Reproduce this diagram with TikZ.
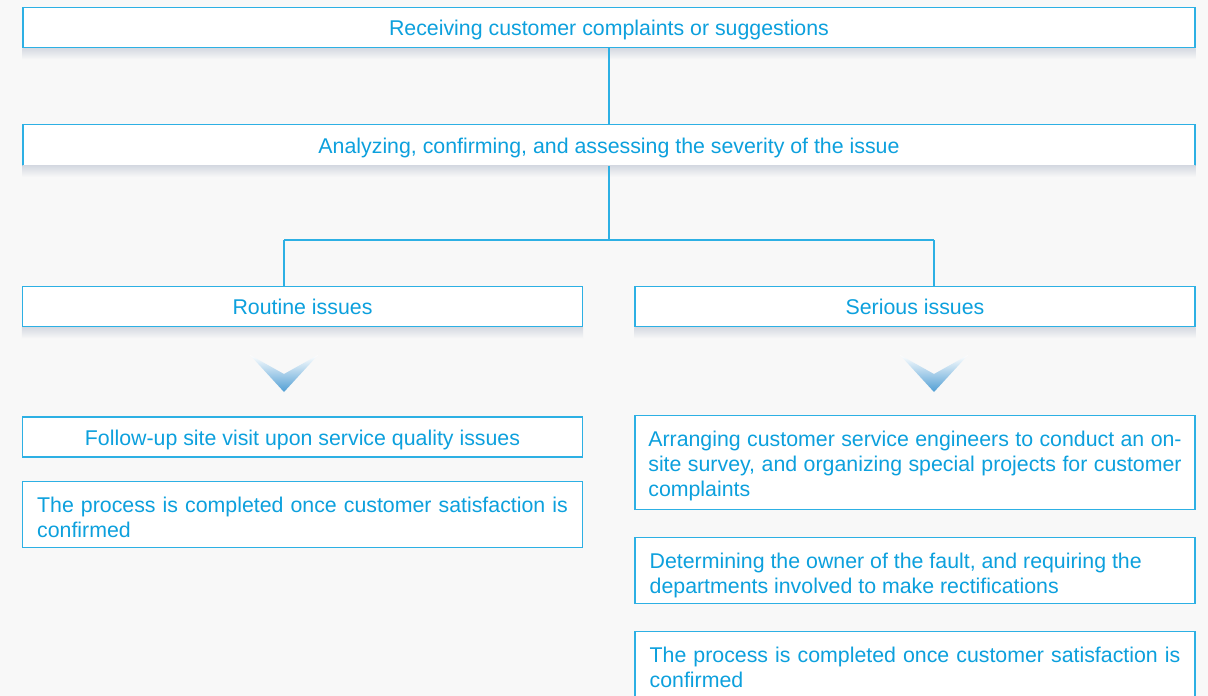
\documentclass[tikz,border=0pt]{standalone}
\usepackage{fontspec}
\setmainfont{Liberation Sans}
\usepackage{xcolor}
\usepackage{tikz}
\usetikzlibrary{positioning,calc}
\definecolor{FrameBlue}{RGB}{45,176,228}
\definecolor{InkBlue}{RGB}{12,160,221}
\definecolor{PageGray}{RGB}{248,248,248}
\definecolor{ShadeGray}{RGB}{214,218,226}
\definecolor{ChevBlue}{RGB}{80,158,212}

\begin{document}
\begin{tikzpicture}[
		x=0.75pt, y=-0.75pt,
		box/.style={draw=FrameBlue, line width=0.9pt, fill=white, text=InkBlue,
			font=\fontsize{16}{18.8}\selectfont, inner sep=0pt, align=center},
		wide/.style={box, minimum width=879pt, minimum height=30.5pt, text height=12pt, text depth=0pt},
		half/.style={box, minimum width=420pt, minimum height=30.5pt, text height=12pt, text depth=0pt},
		plain/.style={box, line width=0.8pt, minimum width=420pt, minimum height=30pt, text height=12pt, text depth=0pt},
		para/.style={box, line width=0.8pt, minimum width=420pt, text width=398pt, align=justify},
		link/.style={draw=FrameBlue, line width=0.9pt}
		]
		
		% ===== nền =====
		\fill[PageGray] (0,0) rectangle (1208,696);
		\useasboundingbox (0,0) rectangle (1208,696);
		
		% ===== hai hộp trên =====
		\node[wide] (recv) at (609,27.5) {Receiving customer complaints or suggestions};
		\node[wide] (assess) at (609,145) {Analyzing, confirming, and assessing the severity of the issue};
		
		% ===== hai nhánh =====
		\node[half] (routine) at (302.5,306.5) {Routine issues};
		\node[half] (serious) at (915,306.5) {Serious issues};
		
		% ===== bóng mờ dưới hộp =====
		\foreach \b in {recv,assess,routine,serious}{
			\shade[top color=ShadeGray, bottom color=PageGray]
			(\b.south west) rectangle ($(\b.south east)+(0,11)$);
		}
		
		% ===== nhánh trái =====
		\node[plain] (visit) at (302.5,437) {Follow-up site visit upon service quality issues};
		\node[para, minimum height=50pt, text depth=15pt] (doneL) at (302.5,514.5)
		{The process is completed once customer satisfaction is\linebreak confirmed};
		
		% ===== nhánh phải =====
		\node[para, minimum height=70pt, text width=400pt, text depth=36pt] (survey) at (915,462.5)
		{Arranging customer service engineers to conduct an on-\linebreak site survey, and organizing special projects for customer\linebreak complaints};
		\node[para, minimum height=50pt, text depth=15pt] (owner) at (915,570.5)
		{Determining the owner of the fault, and requiring the\\departments involved to make rectifications};
		\node[para, minimum height=50pt, text depth=15pt] (doneR) at (915,665)
		{The process is completed once customer satisfaction is\linebreak confirmed};
		
		% ===== đường nối =====
		\coordinate (busL) at (284,240);
		\coordinate (busR) at (934,240);
		\draw[link] (recv.south) -- (assess.north);
		\draw[link] (assess.south) -- (assess.south |- busL);
		\draw[link] (busL) -- (busR);
		\draw[link] (busL) -- (busL |- routine.north);
		\draw[link] (busR) -- (busR |- serious.north);
		
		% ===== mũi tên chữ V =====
		\foreach \cx in {284,934}{
			\shade[top color=white, bottom color=ChevBlue]
			(\cx-34,355) -- (\cx,374) -- (\cx+34,355) -- (\cx,392) -- cycle;
		}
		
	\end{tikzpicture}
\end{document}
